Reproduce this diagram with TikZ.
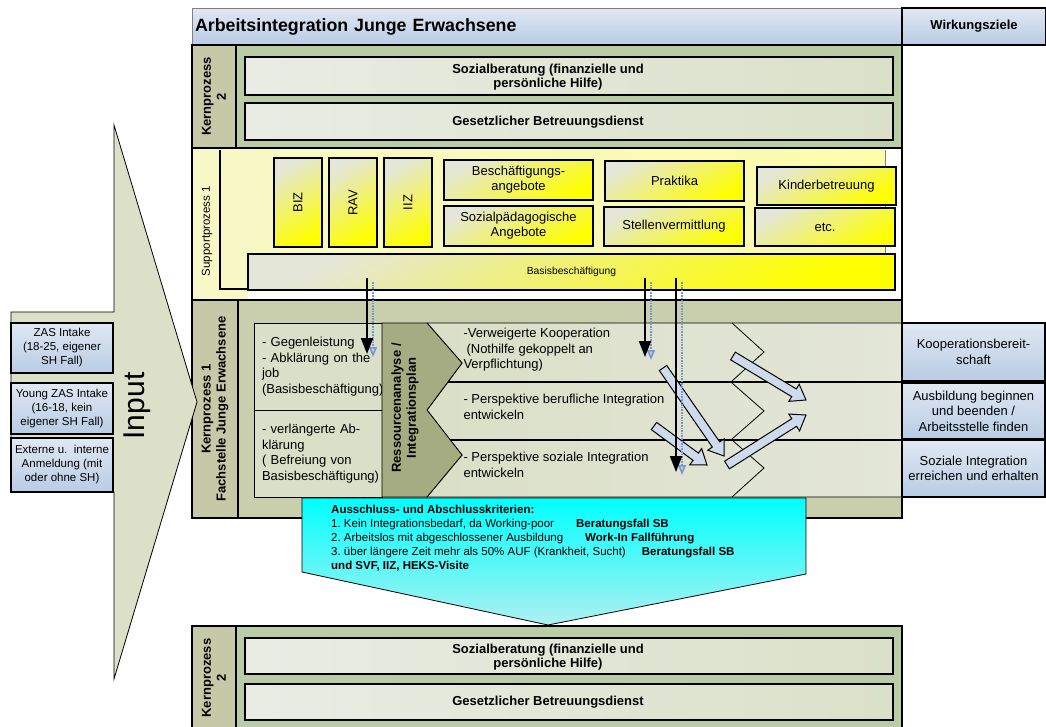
\documentclass[tikz,border=0pt]{standalone}
\usepackage{fontspec}
\setmainfont{Liberation Sans}
\usetikzlibrary{calc,arrows.meta}
\frenchspacing

\definecolor{hdblue1}{RGB}{224,232,243}
\definecolor{hdblue2}{RGB}{184,204,228}
\definecolor{kgreen}{RGB}{185,204,165}
\definecolor{kcol}{RGB}{197,201,168}
\definecolor{kbox1}{RGB}{233,236,228}
\definecolor{kbox2}{RGB}{218,225,200}
\definecolor{sup1}{RGB}{248,248,200}
\definecolor{sup2}{RGB}{252,252,170}
\definecolor{ybox1}{RGB}{228,230,215}
\definecolor{kone}{RGB}{201,206,172}
\definecolor{row1}{RGB}{218,223,199}
\definecolor{row2}{RGB}{227,230,216}
\definecolor{dark}{RGB}{166,172,130}
\definecolor{arrblue}{RGB}{207,218,238}
\definecolor{shblue}{RGB}{120,150,210}
\definecolor{shfill}{RGB}{185,205,235}
\definecolor{inputfill}{RGB}{221,224,200}
\definecolor{cyanlt}{RGB}{175,240,240}

\newcommand{\blockarrow}[2]{%
  \coordinate (bah) at ($(#2)!14pt!(#1)$);
  \draw[barrow] ($(#1)!4.5pt!90:(#2)$) -- ($(bah)!4.5pt!90:(#2)$) -- ($(bah)!10pt!90:(#2)$) -- (#2)
    -- ($(bah)!10pt!-90:(#2)$) -- ($(bah)!4.5pt!-90:(#2)$) -- ($(#1)!4.5pt!-90:(#2)$) -- cycle;}

\begin{document}
\begin{tikzpicture}[x=1pt,y=-1pt]
\tikzstyle{frame} = [draw=black, line width=2.2pt, inner sep=0pt, outer sep=0pt]
\tikzstyle{hd} = [draw=gray, line width=0.8pt, top color=hdblue1, bottom color=hdblue2]
\tikzstyle{kb} = [draw=black, line width=2.2pt, left color=kbox1, right color=kbox2, inner sep=0pt, minimum width=648pt]
\tikzstyle{kbt} = [font=\bfseries\fontsize{13}{14}\selectfont, align=center]
\tikzstyle{vl} = [frame, fill=kcol, rotate=90, align=center, font=\bfseries\fontsize{13}{15}\selectfont]
\tikzstyle{yb} = [draw=black, line width=2.2pt, top color=ybox1, bottom color=yellow, shading angle=30, inner sep=0pt, align=center, font=\fontsize{13}{15}\selectfont]
\tikzstyle{lb} = [draw=black, line width=0.8pt, fill=row1, inner xsep=8pt, text width=112pt, align=left, font=\fontsize{13}{15.5}\selectfont]
\tikzstyle{rt} = [anchor=west, align=left, font=\fontsize{13}{15.5}\selectfont]
\tikzstyle{wz} = [draw=black, line width=2.2pt, top color=hdblue1, bottom color=hdblue2, inner sep=0pt, align=center, font=\fontsize{13}{15.5}\selectfont, minimum width=143pt]
\tikzstyle{inb} = [draw=black, line width=2.2pt, top color=hdblue1, bottom color=hdblue2, inner sep=0pt, align=center, font=\fontsize{11.5}{14}\selectfont, minimum width=102pt]
\tikzstyle{arrow} = [line width=2pt, -{Triangle[length=16pt,width=12pt]}]
\tikzstyle{sarrow} = [draw=shblue, densely dotted, line width=1.6pt, -{Triangle[length=10pt,width=8pt,fill=shfill]}]
\tikzstyle{barrow} = [draw=black, line width=1pt, fill=arrblue, line join=miter]

\path[use as bounding box, fill=white] (0,0) rectangle (1046,726);

% header
\node[hd, text width=704pt, inner xsep=3pt, minimum height=37pt, align=left, font=\bfseries\fontsize{17.8}{20}\selectfont] (title) at (547,26.5) {Arbeitsintegration Junge Erwachsene};
\node[frame, top color=hdblue1, bottom color=hdblue2, minimum width=144pt, minimum height=37pt, font=\bfseries\fontsize{13}{15}\selectfont] (wzhead) at (974,26.5) {Wirkungsziele};

% Kernprozess 2 (oben)
\node[frame, fill=kgreen, minimum width=710pt, minimum height=103pt] (k2top) at (547,96.5) {};
\node[vl, minimum width=103pt, minimum height=44pt] (k2topl) at (214,96.5) {Kernprozess\\2};
\node[kb, minimum height=38pt] (soz1) at (569,76) {};
\node[kb, minimum height=37pt] (ges1) at (569,121.5) {};
\node[kbt] (soz1t) at (548,77.5) {Sozialberatung (finanzielle und\\persönliche Hilfe)};
\node[kbt] (ges1t) at (548,122) {Gesetzlicher Betreuungsdienst};

% Supportprozess 1
\shade[left color=sup1, right color=sup2] (192,148) -- (885,148) -- (885,290) -- (248,290) -- (248,300) -- (192,300) -- cycle;
\node[frame, minimum width=710pt, minimum height=152pt] (sup) at (547,224) {};
\draw[line width=1.4pt] (220,150) -- (220,289) -- (248,289);
\draw[line width=0.6pt, gray] (885,150) -- (885,254);
\node[rotate=90, font=\fontsize{11.5}{14}\selectfont] (supl) at (207,231) {Supportprozess 1};
\node[yb, rotate=90, minimum width=89pt, minimum height=48pt] (biz) at (298,202.5) {BIZ};
\node[yb, rotate=90, minimum width=89pt, minimum height=48pt] (rav) at (353,202.5) {RAV};
\node[yb, rotate=90, minimum width=89pt, minimum height=48pt] (iiz) at (408,202.5) {IIZ};
\node[yb, minimum width=149pt, minimum height=40pt] (besch) at (518.5,180) {Beschäftigungs-\\angebote};
\node[yb, minimum width=149pt, minimum height=40pt] (sozp) at (518.5,226) {Sozialpädagogische\\Angebote};
\node[yb, minimum width=139pt, minimum height=40pt] (prakt) at (674.5,181) {Praktika};
\node[yb, minimum width=140pt, minimum height=39pt] (stell) at (674,226.5) {Stellenvermittlung};
\node[yb, minimum width=139pt, minimum height=38pt] (kind) at (826.5,186) {Kinderbetreuung};
\node[yb, minimum width=140pt, minimum height=38pt] (etc) at (825,227) {etc.};
\node[yb, minimum width=647pt, minimum height=36pt, font=\fontsize{10.3}{12}\selectfont] (basis) at (571.5,272) {Basisbeschäftigung};

% Kernprozess 1
\node[frame, fill=kone, minimum width=710pt, minimum height=218pt] (k1) at (547,409) {};
\node[vl, minimum width=218pt, minimum height=46pt] (k1l) at (215,409) {Kernprozess 1\\Fachstelle Junge Erwachsene};
\node[lb, minimum height=87pt] (abkl) at (318,366.5) {- Gegenleistung\\- Abklärung on the\\job\\(Basisbeschäftigung)};
\node[lb, minimum height=87pt] (verl) at (318,453.5) {- verlängerte Ab-\\klärung\\( Befreiung von\\Basisbeschäftigung)};
\path[draw=black, line width=0.8pt, left color=row1, right color=row2] (427,323) -- (902,323) -- (902,382) -- (448,382) -- (462,363) -- cycle;
\path[draw=black, line width=0.8pt, left color=row1, right color=row2] (448,382) -- (902,382) -- (902,440) -- (450,440) -- (427,410) -- cycle;
\path[draw=black, line width=0.8pt, left color=row1, right color=row2] (450,440) -- (902,440) -- (902,497) -- (427,497) -- (462,455) -- cycle;
\draw[line width=1.6pt] (448,382) -- (902,382) (450,440) -- (902,440);
\draw[line width=0.8pt, fill=dark] (382,323) -- (427,323) -- (462,363) -- (427,410) -- (462,455) -- (427,497) -- (382,497) -- cycle;
\node[rotate=90, align=center, font=\bfseries\fontsize{13}{15}\selectfont] (ress) at (405,408) {Ressourcenanalyse /\\Integrationsplan};
\draw[line width=0.8pt] (732,323) -- (764,352) -- (732,381);
\draw[line width=0.8pt] (732,383) -- (764,411) -- (732,439);
\draw[line width=0.8pt] (732,440) -- (764,468) -- (732,497);
\node[rt] (row1t) at (460,350) {-Verweigerte Kooperation\\\hspace*{3pt}(Nothilfe gekoppelt an\\Verpflichtung)};
\node[rt] (row2t) at (460,407) {- Perspektive berufliche Integration\\entwickeln};
\node[rt] (row3t) at (460,465) {- Perspektive soziale Integration\\entwickeln};

% Wirkungsziele
\node[wz, minimum height=58pt] (wz1) at (973.5,352) {Kooperationsbereit-\\schaft};
\node[wz, minimum height=56pt] (wz2) at (973.5,411) {Ausbildung beginnen\\und beenden /\\Arbeitsstelle finden};
\node[wz, minimum height=57pt] (wz3) at (973.5,468.5) {Soziale Integration\\erreichen und erhalten};

% Ausschluss
\draw[line width=0.8pt, top color=cyan, bottom color=cyanlt] (302,498) -- (806,498) -- (806,574) -- (548,625) -- (302,572) -- cycle;
\node[anchor=north west, align=left, inner sep=0pt, font=\fontsize{11.5}{14}\selectfont] (aus) at (331,504.5) {\textbf{Ausschluss- und Abschlusskriterien:}\\
1. Kein Integrationsbedarf, da Working-poor\hspace{22pt}\textbf{Beratungsfall SB}\\
2. Arbeitslos mit abgeschlossener Ausbildung\hspace{22pt}\textbf{Work-In Fallführung}\\
3. über längere Zeit mehr als 50\% AUF (Krankheit, Sucht)\hspace{16pt}\textbf{Beratungsfall SB}\\
\textbf{und SVF, IIZ, HEKS-Visite}};

% Kernprozess 2 (unten)
\node[frame, fill=kgreen, minimum width=710pt, minimum height=104pt] (k2bot) at (547,678) {};
\node[vl, minimum width=104pt, minimum height=44pt] (k2botl) at (214,678) {Kernprozess\\2};
\node[kb, minimum height=36pt] (soz2) at (569,656) {};
\node[kb, minimum height=36pt] (ges2) at (569,702) {};
\node[kbt] (soz2t) at (548,657) {Sozialberatung (finanzielle und\\persönliche Hilfe)};
\node[kbt] (ges2t) at (548,702.5) {Gesetzlicher Betreuungsdienst};

% Pfeile
\coordinate (ba1s) at (663,368); \coordinate (ba1e) at (724,456);
\coordinate (ba2s) at (654,426); \coordinate (ba2e) at (707,465);
\coordinate (ba3s) at (733,356); \coordinate (ba3e) at (806,400);
\coordinate (ba4s) at (727,465); \coordinate (ba4e) at (806,415);
\blockarrow{ba1s}{ba1e}
\blockarrow{ba2s}{ba2e}
\blockarrow{ba3s}{ba3e}
\blockarrow{ba4s}{ba4e}

\coordinate (va1s) at (367,278); \coordinate (va1e) at (367,354);
\coordinate (va2s) at (645,278); \coordinate (va2e) at (645,357);
\coordinate (va3s) at (676,278); \coordinate (va3e) at (676,472);
\draw[sarrow] ([shift={(6,4)}]va1s) -- ([shift={(6,3)}]va1e);
\draw[sarrow] ([shift={(6,4)}]va2s) -- ([shift={(6,3)}]va2e);
\draw[sarrow] ([shift={(6,4)}]va3s) -- ([shift={(6,3)}]va3e);
\draw[arrow] (va1s) -- (va1e);
\draw[arrow] (va2s) -- (va2e);
\draw[arrow] (va3s) -- (va3e);

% Input
\draw[line width=0.8pt, fill=inputfill] (11,312) -- (114,312) -- (114,125) -- (197,402) -- (114,679) -- (114,492) -- (11,492) -- cycle;
\node[rotate=90, font=\fontsize{30}{32}\selectfont] (input) at (137,406) {Input};
\node[inb, minimum height=50pt] (zas) at (62,348) {ZAS Intake\\(18-25, eigener\\SH Fall)};
\node[inb, minimum height=51pt] (young) at (62,408.5) {Young ZAS Intake\\(16-18, kein\\eigener SH Fall)};
\node[inb, minimum height=54pt] (extern) at (62,465) {Externe u.\ \ interne\\Anmeldung (mit\\oder ohne SH)};
\end{tikzpicture}
\end{document}
